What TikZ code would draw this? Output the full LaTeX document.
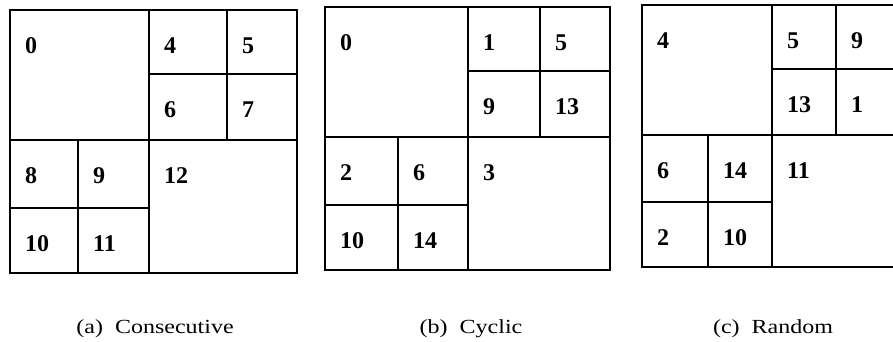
\documentclass[tikz,border=0pt]{standalone}
\usepackage{fontspec}
\setmainfont{Liberation Serif}
\usetikzlibrary{positioning}
\tikzset{%
	frame/.style   = {draw, line width=2.4pt},
	split/.style   = {draw, line width=1.8pt},
	num/.style     = {anchor=west, inner sep=0pt, font=\fontsize{24}{24}\selectfont\bfseries},
	caption/.style = {anchor=base, inner sep=0pt, font=\fontsize{20}{20}\selectfont},
}

\begin{document}
\begin{tikzpicture}[x=1pt,y=-1pt]
	\useasboundingbox (0,0) rectangle (893,342);
	\clip (0,0) rectangle (893,342);
	
	% (a) consecutive order
	\draw[frame] (10,10) rectangle (297,273);
	\draw[split] (149,10) -- (149,273);  % halves
	\draw[split] (10,140) -- (297,140);
	\draw[split] (227,10) -- (227,140);  % upper right quarter
	\draw[split] (149,74) -- (297,74);
	\draw[split] (78,140) -- (78,273);   % lower left quarter
	\draw[split] (10,208) -- (149,208);
	\foreach \t/\x/\y in {0/25/46, 4/164/46, 5/242/46, 6/164/110, 7/242/110, 8/25/176, 9/93/176, 12/164/176, 10/25/244, 11/93/244}
		\node[num] (a\t) at (\x,\y) {\t};
	\node[caption] (capa) at (155,333) {\scalebox{1.2}[1]{(a)~~Consecutive}};
	
	% (b) cyclic order
	\draw[frame] (325,7) rectangle (610,270);
	\draw[split] (468,7) -- (468,270);
	\draw[split] (325,137) -- (610,137);
	\draw[split] (540,7) -- (540,137);
	\draw[split] (468,71) -- (610,71);
	\draw[split] (398,137) -- (398,270);
	\draw[split] (325,205) -- (468,205);
	\foreach \t/\x/\y in {0/340/43, 1/483/43, 5/555/43, 9/483/107, 13/555/107, 2/340/173, 6/413/173, 3/483/173, 10/340/241, 14/413/241}
		\node[num] (b\t) at (\x,\y) {\t};
	\node[caption] (capb) at (471,333) {\scalebox{1.2}[1]{(b)~~Cyclic}};
	
	% (c) random order
	\draw[frame] (642,5) rectangle (902,267);
	\draw[split] (772,5) -- (772,267);
	\draw[split] (642,135) -- (902,135);
	\draw[split] (836,5) -- (836,135);
	\draw[split] (772,69) -- (902,69);
	\draw[split] (708,135) -- (708,267);
	\draw[split] (642,202) -- (772,202);
	\foreach \t/\x/\y in {4/657/41, 5/787/41, 9/851/41, 13/787/105, 1/851/105, 6/657/171, 14/723/171, 11/787/171, 2/657/238, 10/723/238}
		\node[num] (c\t) at (\x,\y) {\t};
	\node[caption] (capc) at (773,333) {\scalebox{1.2}[1]{(c)~~Random}};
\end{tikzpicture}
\end{document}
